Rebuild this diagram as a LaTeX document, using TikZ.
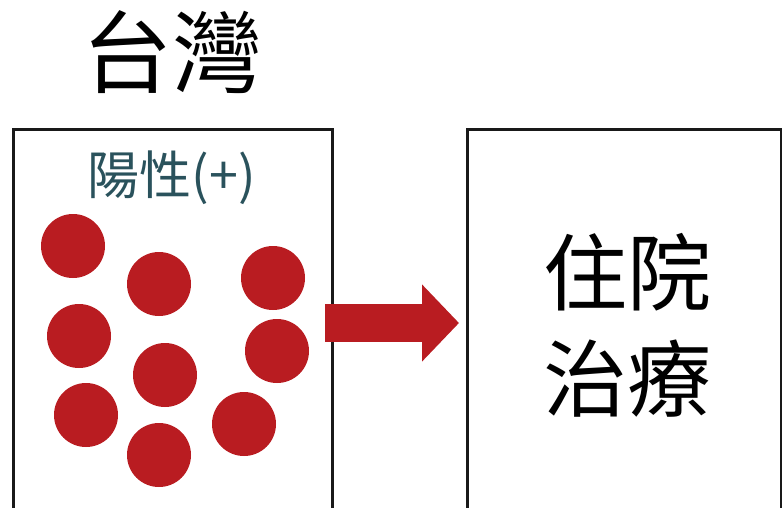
\documentclass[tikz,border=0pt]{standalone}
\usepackage{fontspec}
\newfontfamily\cjk{Noto Sans CJK TC}
\usetikzlibrary{arrows.meta}
\definecolor{dotred}{RGB}{185,28,33}
\definecolor{tealtxt}{RGB}{42,82,92}
\tikzset{
  panel/.style={draw=black!90, line width=3pt, anchor=north west, inner sep=0pt},
  dot/.style={circle, fill=dotred, minimum size=64pt, inner sep=0pt},
  bigtxt/.style={font=\cjk\fontsize{90}{90}\selectfont, inner sep=0pt},
}
\begin{document}
\begin{tikzpicture}[x=1pt,y=-1pt]
\useasboundingbox (0,0) rectangle (782,507);
\node[bigtxt] (title) at (172,52) {台灣};
\node[panel, minimum width=319pt, minimum height=420pt] (L) at (12,128) {};
\node[panel, minimum width=314pt, minimum height=420pt] (R) at (466,128) {};
\node[font=\cjk\fontsize{52}{52}\selectfont, text=tealtxt, inner sep=0pt] (pos) at (172,178) {陽性(+)};
\node[dot] (d1) at (73,246) {};
\node[dot] (d2) at (159,284) {};
\node[dot] (d3) at (273,278) {};
\node[dot] (d4) at (79,336) {};
\node[dot] (d5) at (277,351) {};
\node[dot] (d6) at (165,375) {};
\node[dot] (d7) at (86,415) {};
\node[dot] (d8) at (244,424) {};
\node[dot] (d9) at (159,455) {};
\node[font=\cjk\fontsize{84}{106}\selectfont, align=center, inner sep=0pt] (treat) at (627,325) {住院\\治療};
\coordinate (a1) at (325,323);
\draw[dotred, line width=38pt, shorten >=7pt, -{Triangle[length=37pt,width=75pt]}] (a1) -- (a1 -| R.west);
\end{tikzpicture}
\end{document}
